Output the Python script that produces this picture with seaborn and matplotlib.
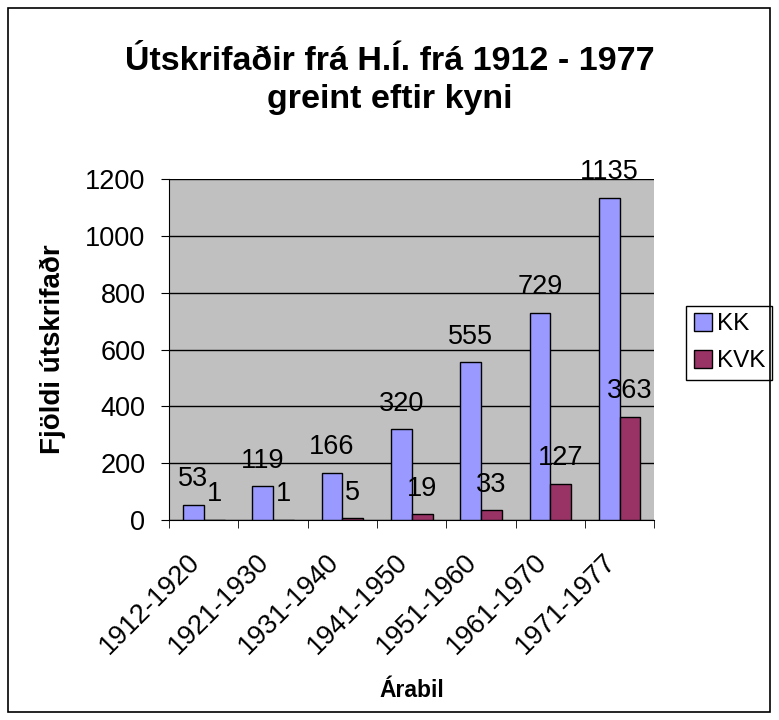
import pandas as pd
import seaborn as sns
import matplotlib.pyplot as plt
from matplotlib.patches import Rectangle
from matplotlib.transforms import ScaledTranslation

timabil = ['1912-1920', '1921-1930', '1931-1940', '1941-1950',
           '1951-1960', '1961-1970', '1971-1977']
kk = [53, 119, 166, 320, 555, 729, 1135]
kvk = [1, 1, 5, 19, 33, 127, 363]

df = pd.DataFrame({
    'Árabil': timabil * 2,
    'Fjöldi': kk + kvk,
    'Kyn': ['KK'] * len(kk) + ['KVK'] * len(kvk),
})

sns.set_style('white')
plt.rcParams['font.family'] = ['Liberation Sans', 'DejaVu Sans']
plt.rcParams['text.color'] = 'black'
plt.rcParams['axes.labelcolor'] = 'black'
plt.rcParams['xtick.color'] = 'black'
plt.rcParams['ytick.color'] = 'black'

fig = plt.figure(figsize=(7.79, 7.2), dpi=100)
ax = fig.add_axes([0.217, 0.278, 0.623, 0.473])
ax.set_facecolor('#C0C0C0')

sns.barplot(data=df, x='Árabil', y='Fjöldi', hue='Kyn',
            palette={'KK': '#9999FF', 'KVK': '#993366'},
            width=0.6, gap=0, edgecolor='black', linewidth=1,
            saturation=1, ax=ax, zorder=3)

for cont in ax.containers:
    ax.bar_label(cont, fontsize=19.5, padding=9)

ax.set_ylim(0, 1200)
ax.set_xlim(-0.5, len(timabil) - 0.5)
ax.set_yticks(range(0, 1201, 200))
ax.yaxis.grid(True, color='black', linewidth=1, zorder=0)
ax.set_axisbelow(True)
for s in ax.spines.values():
    s.set_visible(False)
ax.spines['left'].set_visible(True)
ax.spines['bottom'].set_visible(True)
ax.spines['left'].set_color('black')
ax.spines['bottom'].set_color('black')

ax.tick_params(axis='y', labelsize=19.5, length=6, color='black', left=True, pad=11)
ax.set_xticks(range(len(timabil)))
ax.set_xticklabels(timabil, rotation=45, ha='right', rotation_mode='anchor')
ax.tick_params(axis='x', labelsize=19.5, length=0, pad=21)
ax.set_xticks([i - 0.5 for i in range(len(timabil) + 1)], minor=True)
ax.tick_params(axis='x', which='minor', length=6, color='black', bottom=True)
shift = ScaledTranslation(-0.17, 0, fig.dpi_scale_trans)
for lbl in ax.get_xticklabels():
    lbl.set_transform(lbl.get_transform() + shift)

ax.set_xlabel('Árabil', fontsize=16.5, fontweight='bold', labelpad=14)
ax.set_ylabel('Fjöldi útskrifaðr', fontsize=20, fontweight='bold', labelpad=14)

fig.suptitle('Útskrifaðir frá H.Í. frá 1912 - 1977\ngreint eftir kyni',
             fontsize=24.5, fontweight='bold', y=0.936, linespacing=1.3)

ax.legend(loc='center left', bbox_to_anchor=(1.066, 0.52), fontsize=17.5,
          frameon=True, fancybox=False, edgecolor='black', borderpad=0.3,
          handlelength=0.75, handleheight=0.75, handletextpad=0.2,
          labelspacing=0.6, borderaxespad=0, framealpha=1)

fig.patches.append(Rectangle((0.01, 0.011), 0.978, 0.978, transform=fig.transFigure,
                             fill=False, edgecolor='black', linewidth=1.2))

plt.savefig('out.png', dpi=100)
